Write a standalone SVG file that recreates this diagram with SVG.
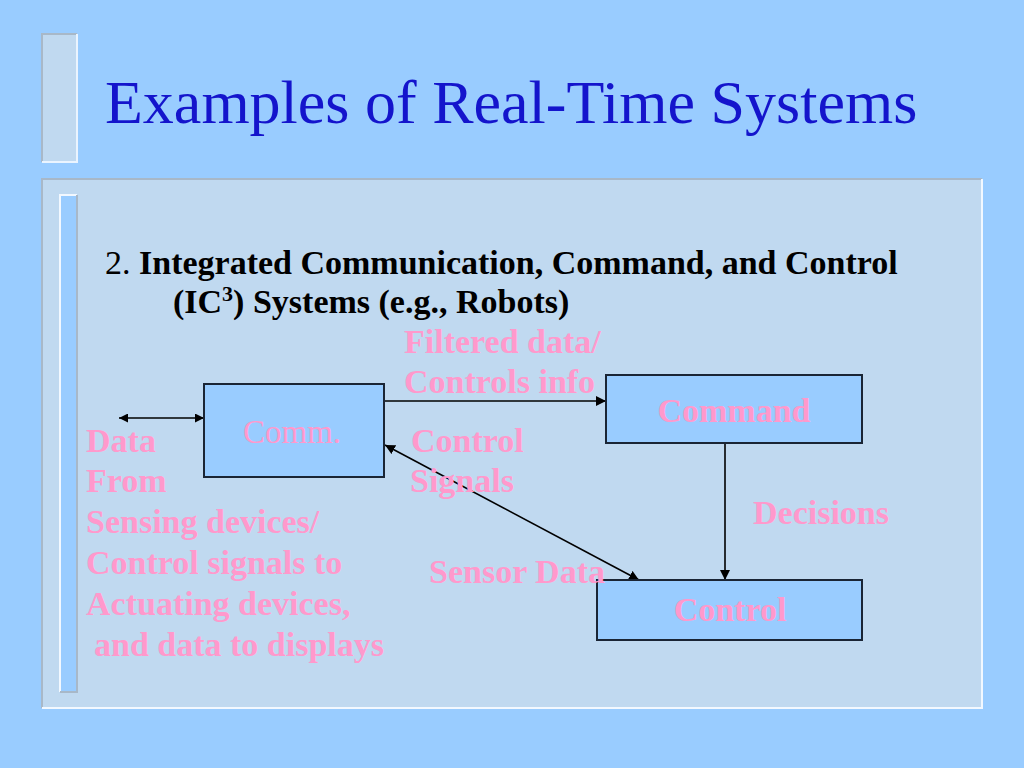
<svg xmlns="http://www.w3.org/2000/svg" width="1024" height="768" viewBox="0 0 1024 768">
<defs>
<style>
.lbl{font-family:"Liberation Serif","Times New Roman",serif;font-size:34px;font-weight:bold;fill:#FF99CC}
.box{fill:#99CCFF;stroke:#1A2535;stroke-width:2}
.con{stroke:#000;stroke-width:1.6;fill:none}
</style>
<marker id="ah" viewBox="0 0 10 10" refX="10" refY="5" markerWidth="9" markerHeight="9" markerUnits="userSpaceOnUse" orient="auto-start-reverse">
<path d="M0,0 L10,5 L0,10 z" fill="#000"/>
</marker>
<marker id="ahb" viewBox="0 0 10 10" refX="10" refY="5" markerWidth="10" markerHeight="10" markerUnits="userSpaceOnUse" orient="auto-start-reverse">
<path d="M0,0 L10,5 L0,10 z" fill="#000"/>
</marker>
</defs>
<rect width="1024" height="768" fill="#99CCFF"/>
<g id="title-bar">
<rect x="42" y="34" width="35" height="128" fill="#C0D9F0"/>
<path d="M42,162 V34 H77" stroke="#A8B8C8" stroke-width="2" fill="none"/>
<path d="M77,34 V162 H42" stroke="#EAF4FF" stroke-width="2" fill="none"/>
</g>
<text id="title" x="105" y="123" font-family="Liberation Serif,'Times New Roman',serif" font-size="62" fill="#1414CC">Examples of Real-Time Systems</text>
<g id="panel">
<rect x="42" y="179" width="940" height="529" fill="#C0D9F0"/>
<path d="M42,708 V179 H982" stroke="#A8B8C8" stroke-width="2" fill="none"/>
<path d="M982,179 V708 H42" stroke="#F2F8FF" stroke-width="2" fill="none"/>
<rect x="60" y="195" width="17" height="497" fill="#99CCFF"/>
<path d="M60,692 V195 H77" stroke="#F2F8FF" stroke-width="2" fill="none"/>
<path d="M77,195 V692 H60" stroke="#A8B8C8" stroke-width="2" fill="none"/>
</g>
<g id="heading" font-family="Liberation Serif,'Times New Roman',serif" font-size="34" fill="#000">
<text x="105" y="274">2. <tspan font-weight="bold">Integrated Communication, Command, and Control</tspan></text>
<text x="173" y="313" font-weight="bold">(IC<tspan font-size="22" dy="-12">3</tspan><tspan dy="12">) Systems (e.g., Robots)</tspan></text>
</g>
<g id="connectors">
<line class="con" x1="119" y1="418" x2="204" y2="418" marker-start="url(#ah)" marker-end="url(#ah)"/>
<line class="con" x1="385" y1="401" x2="606" y2="401" marker-end="url(#ahb)"/>
<line class="con" x1="725" y1="444" x2="725" y2="580" marker-end="url(#ahb)"/>
<line class="con" x1="385" y1="445" x2="639" y2="580" marker-start="url(#ahb)" marker-end="url(#ahb)"/>
</g>
<g id="node-comm">
<rect class="box" x="204" y="384" width="180" height="93"/>
<text x="243" y="443" font-family="Liberation Serif,'Times New Roman',serif" font-size="33" fill="#FF99CC">Comm.</text>
</g>
<g id="node-command">
<rect class="box" x="606" y="375" width="256" height="68"/>
<text class="lbl" x="734" y="422" text-anchor="middle">Command</text>
</g>
<g id="node-control">
<rect class="box" x="597" y="580" width="265" height="60"/>
<text class="lbl" x="730" y="621" text-anchor="middle">Control</text>
</g>
<g id="labels">
<text class="lbl" x="404" y="353">Filtered data/</text>
<text class="lbl" x="404" y="393">Controls info</text>
<text class="lbl" x="411" y="452">Control</text>
<text class="lbl" x="410" y="492">Signals</text>
<text class="lbl" x="753" y="524">Decisions</text>
<text class="lbl" x="429" y="583">Sensor Data</text>
<text class="lbl" x="86" y="452">Data</text>
<text class="lbl" x="86" y="492">From</text>
<text class="lbl" x="86" y="533">Sensing devices/</text>
<text class="lbl" x="86" y="574">Control signals to</text>
<text class="lbl" x="86" y="615">Actuating devices,</text>
<text class="lbl" x="94" y="656">and data to displays</text>
</g>
</svg>
